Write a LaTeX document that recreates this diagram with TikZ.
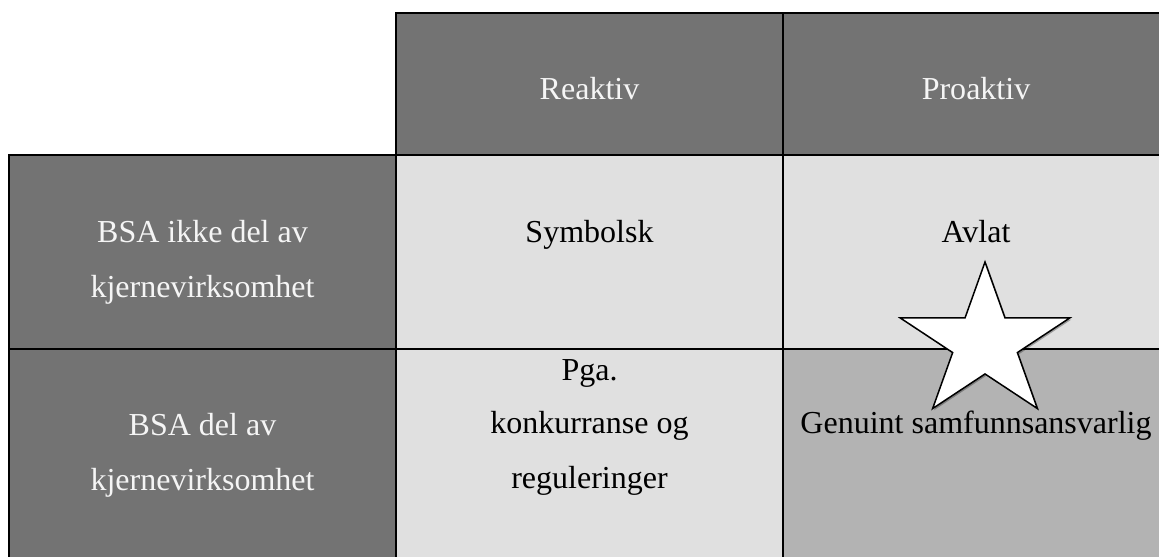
\documentclass[tikz,border=0pt]{standalone}
\usepackage{fontspec}
\setmainfont{Liberation Serif}
\usetikzlibrary{shapes.geometric,shadows}

\definecolor{headgray}{HTML}{737373}
\definecolor{cellgray}{HTML}{E0E0E0}
\definecolor{goalgray}{HTML}{B3B3B3}
\definecolor{headtext}{HTML}{F5F5F5}

\tikzset{
  head/.style={fill=headgray,draw=black,line width=1.1pt},
  cell/.style={fill=cellgray,draw=black,line width=1.1pt},
  headlabel/.style={anchor=base,inner sep=0pt,text=headtext,font=\fontsize{16}{19}\selectfont},
  celllabel/.style={anchor=base,inner sep=0pt,text=black,font=\fontsize{16}{19}\selectfont},
  goalstar/.style={star,star points=5,star point ratio=2.618,minimum size=81pt,inner sep=0pt,
    fill=white,draw=black,line width=0.75pt,
    drop shadow={shadow xshift=0.8pt,shadow yshift=-0.8pt,opacity=0.3,fill=black}}
}

\begin{document}
\begin{tikzpicture}[x=0.5pt,y=-0.5pt]
  \useasboundingbox (0,0) rectangle (1159,556);
  \clip (0,0) rectangle (1159,556);
  % header row
  \draw[head] (396,13) rectangle (783,155);
  \draw[head] (783,13) rectangle (1175,155);
  % row 1
  \draw[head] (9,155) rectangle (396,349);
  \draw[cell] (396,155) rectangle (783,349);
  \draw[cell] (783,155) rectangle (1175,349);
  % row 2
  \draw[head] (9,349) rectangle (396,570);
  \draw[cell] (396,349) rectangle (783,570);
  \draw[cell,fill=goalgray] (783,349) rectangle (1175,570);

  \node[headlabel] (reaktiv) at (589.5,99) {Reaktiv};
  \node[headlabel] (proaktiv) at (976,99) {Proaktiv};

  \node[headlabel] (ikkeA) at (202.5,242) {BSA ikke del av};
  \node[headlabel] (ikkeB) at (202.5,297) {kjernevirksomhet};
  \node[celllabel] (symbolsk) at (589.5,242) {Symbolsk};
  \node[celllabel] (avlat) at (976,242) {Avlat};

  \node[headlabel] (delA) at (202.5,435) {BSA del av};
  \node[headlabel] (delB) at (202.5,490) {kjernevirksomhet};
  \node[celllabel] (pgaA) at (589.5,380) {Pga.};
  \node[celllabel] (pgaB) at (589.5,433) {konkurranse og};
  \node[celllabel] (pgaC) at (589.5,488) {reguleringer};
  \node[celllabel] (genuint) at (976,433) {Genuint samfunnsansvarlig};

  % star
  \begin{scope}[shift={(985,343)}]
    \node[goalstar,xscale=1.1,transform shape] (maal) at (0,0) {};
  \end{scope}
\end{tikzpicture}
\end{document}
